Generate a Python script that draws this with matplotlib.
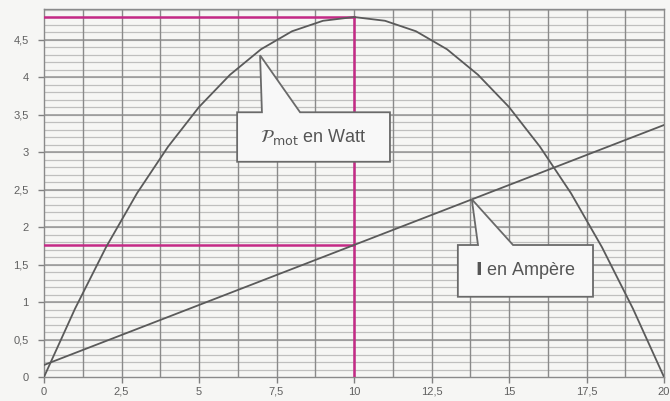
import numpy as np
import matplotlib.pyplot as plt
from matplotlib.patches import Polygon

# motor readings: voltage U (V), mechanical power (W), current (A)
voltage = [0, 1, 2, 3, 4, 5, 6, 7, 8, 9, 10, 11, 12, 13, 14, 15, 16, 17, 18, 19, 20]
power = [0, 0.91, 1.73, 2.45, 3.07, 3.60, 4.03, 4.37, 4.61, 4.75, 4.80,
         4.75, 4.61, 4.37, 4.03, 3.60, 3.07, 2.45, 1.73, 0.91, 0]
current_voltage = [0, 2.5, 5, 7.5, 10, 12.5, 15, 17.5, 20]
current = [0.16, 0.56, 0.96, 1.36, 1.76, 2.16, 2.56, 2.96, 3.36]

x_ticks = [0, 2.5, 5, 7.5, 10, 12.5, 15, 17.5, 20]
y_ticks = [0, 0.5, 1, 1.5, 2, 2.5, 3, 3.5, 4, 4.5]

BG = "#f6f6f4"
INK = "#5a5a5a"
MAGENTA = "#c42a86"


def comma(v):
    s = f"{v:g}"
    return s.replace(".", ",")


def callout(ax, x0, x1, y0, y1, bx0, bx1, tip, text):
    verts = [(x0, y0), (x1, y0), (x1, y1), (bx1, y1), tip, (bx0, y1), (x0, y1)]
    ax.add_patch(Polygon(verts, closed=True, facecolor="#f8f8f8",
                         edgecolor="#6a6a6a", lw=1.3, zorder=5))
    ax.text((x0 + x1) / 2, (y0 + y1) / 2, text, ha="center", va="center",
            fontsize=13, color="#555555", family="Liberation Sans", zorder=6)


fig = plt.figure(figsize=(6.7, 4.01), dpi=100, facecolor=BG)
ax = fig.add_axes([44 / 670, 24 / 401, 620 / 670, 368 / 401], facecolor=BG)
ax.set_xlim(0, 20)
ax.set_ylim(0, 4.907)

# dense scanned-paper grid
for y in np.arange(0.1, 4.9, 0.1):
    ax.axhline(y, color="#a8a8a8", lw=0.9, alpha=0.7, zorder=1)
for y in y_ticks[1:]:
    ax.axhline(y, color="#959595", lw=1.1, zorder=1)
for x in np.arange(1.25, 20, 1.25):
    ax.axvline(x, color="#8a8a8a", lw=1.0, zorder=1)

# reference lines at the power maximum
u_peak = voltage[int(np.argmax(power))]
p_peak = max(power)
i_peak = current[current_voltage.index(u_peak)]
ax.plot([0, u_peak], [p_peak, p_peak], color=MAGENTA, lw=1.8, zorder=3)
ax.plot([u_peak, u_peak], [0, p_peak], color=MAGENTA, lw=1.8, zorder=3)
ax.plot([0, u_peak], [i_peak, i_peak], color=MAGENTA, lw=1.8, zorder=3)

ax.plot(voltage, power, color=INK, lw=1.3, zorder=4)
ax.plot(current_voltage, current, color=INK, lw=1.3, zorder=4)

callout(ax, 6.23, 11.16, 2.87, 3.53, 7.03, 8.26, (6.97, 4.29),
        r"$\mathcal{P}_{\mathrm{mot}}$ en Watt")
callout(ax, 13.35, 17.71, 1.07, 1.76, 14.0, 15.13, (13.8, 2.37),
        r"$\mathbf{I}$ en Ampère")

ax.set_xticks(x_ticks)
ax.set_xticklabels([comma(v) for v in x_ticks])
ax.set_yticks(y_ticks)
ax.set_yticklabels([comma(v) for v in y_ticks])
ax.tick_params(axis="both", colors="#808080", labelcolor="#606060",
               labelsize=8, length=4, width=1)
ax.tick_params(axis="x", pad=3)
ax.tick_params(axis="y", pad=7)
for lab in ax.get_xticklabels() + ax.get_yticklabels():
    lab.set_family("Liberation Sans")

for side in ["left", "bottom", "top", "right"]:
    ax.spines[side].set_color("#8a8a8a")
    ax.spines[side].set_linewidth(1.0)

fig.savefig("out.png", dpi=100, facecolor=BG)
